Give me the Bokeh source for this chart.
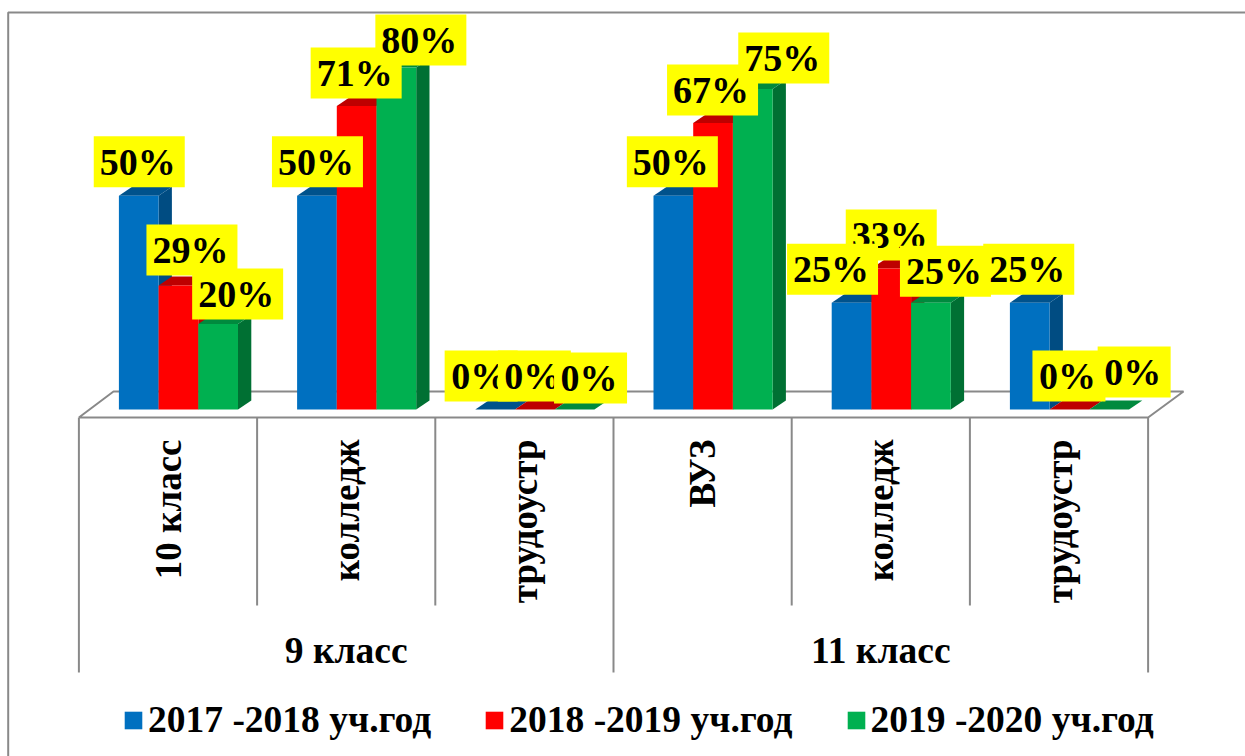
from bokeh.plotting import figure
from bokeh.models import Range1d, Legend, LegendItem
from bokeh.core.properties import value
from bokeh.embed import file_html
from bokeh.resources import INLINE

groups = ["9 класс", "11 класс"]
group_spans = [(0, 3), (3, 6)]
categories = ["10 класс", "колледж", "трудоустр", "ВУЗ", "колледж", "трудоустр"]
series_names = ["2017 -2018 уч.год", "2018 -2019 уч.год", "2019 -2020 уч.год"]
s2017 = [50, 50, 0, 50, 25, 25]
s2018 = [29, 71, 0, 67, 33, 0]
s2019 = [20, 80, 0, 75, 25, 0]
series = [s2017, s2018, s2019]

front = ["#0070C0", "#FF0000", "#00B050"]
top_c = ["#00528C", "#BE0000", "#008A3E"]
side_c = ["#004C82", "#BE0000", "#007033"]
GRAY = "#898989"
FONT = value("Liberation Serif")

# label-box offsets from each bar's top centre, in pixels (moved by hand in the original)
label_dx = [[0.5, 0.5, -14, -1, -19, -1], [13.5, -0.5, -0.5, -0.5, 0, -0.5], [19.5, 24.5, 16, 31, 14.5, 25]]
label_dy = [[-34, -34, -33.5, -34, -33.5, -33.5], [-35.5, -33, -33.5, -33, -33.5, -33.5], [-30, -27.5, -31.5, -31, -31.5, -37.5]]

W, H = 1245, 756
X_PX, Y_PX = 178.2, 4.275
X0, Y0 = 78.4, 409.0          # canvas position of data (0,0)
ux = lambda px: (px - X0) / X_PX
uy = lambda py: (Y0 - py) / Y_PX

p = figure(width=W, height=H, output_backend="svg", toolbar_location=None,
           x_range=Range1d(ux(0), ux(W)), y_range=Range1d(uy(H), uy(0)),
           min_border=0, outline_line_color=None, background_fill_color="white")
p.axis.visible = False
p.grid.visible = False

# chart-area border
p.line([ux(7.7), ux(7.7), ux(W)], [uy(H), uy(12), uy(12)], line_color=GRAY, line_width=2)

# floor
fx = [ux(78.4), ux(113), ux(1183), ux(1147.6), ux(78.4)]
fy = [uy(417), uy(391), uy(391), uy(417), uy(417)]
p.line(fx, fy, line_color=GRAY, line_width=2)

# category separators
for i in range(7):
    y_end = 672 if i in (0, 3, 6) else 605
    p.line([i, i], [uy(417), uy(y_end)], line_color=GRAY, line_width=2)

# bars with side and top faces
bar_w = 39.7 / X_PX
dx3, dy3 = 13.3 / X_PX, 9.0 / Y_PX
lead = 40.0 / X_PX
renderers = []
for s, vals in enumerate(series):
    left = [g + lead + s * bar_w for g in range(len(vals))]
    right = [l + bar_w for l in left]
    p.patches([[r, r + dx3, r + dx3, r] for r in right],
              [[0, dy3, v + dy3, v] for v in vals], fill_color=side_c[s], line_color=None)
    p.patches([[l, r, r + dx3, l + dx3] for l, r in zip(left, right)],
              [[v, v, v + dy3, v + dy3] for v in vals], fill_color=top_c[s], line_color=None)
    renderers.append(p.vbar(x=[l + bar_w / 2 for l in left], top=vals, bottom=0, width=bar_w,
                            fill_color=front[s], line_color=None))

# data labels, overlap order as in the original
for g in range(6):
    order = [1, 0, 2] if g == 4 else [0, 1, 2]
    for s in order:
        v = series[s][g]
        cx = g + lead + (s + 0.5) * bar_w + label_dx[s][g] / X_PX
        cy = v - label_dy[s][g] / Y_PX
        p.rect([cx], [cy], width=91 if v >= 10 else 73, height=51, width_units="screen",
               height_units="screen", fill_color="#FFFF00", line_color=None)
        p.text([cx - 1.5 / X_PX], [cy], text=[f"{v}%"], text_font=FONT, text_font_style="bold",
               text_font_size="38px", text_align="center", text_baseline="middle", text_color="black")

# category labels
for i, c in enumerate(categories):
    p.text([i + 0.5], [uy(439)], text=[c], text_font=FONT, text_font_style="bold",
           text_font_size="37px", angle=1.5707963, text_align="right", text_baseline="middle",
           text_color="black")
for name, (a, b) in zip(groups, group_spans):
    p.text([(a + b) / 2], [uy(650)], text=[name], text_font=FONT, text_font_style="bold",
           text_font_size="37.5px", text_align="center", text_baseline="middle", text_color="black")

legend = Legend(items=[LegendItem(label=n, renderers=[r]) for n, r in zip(series_names, renderers)],
                orientation="horizontal", location=(122, 15), background_fill_alpha=0,
                border_line_color=None, glyph_width=22, glyph_height=22, label_standoff=4,
                spacing=52, padding=0, margin=0, label_text_font="Liberation Serif",
                label_text_font_style="bold", label_text_font_size="37.5px", label_text_color="black")
p.add_layout(legend)

open("out.html", "w").write(file_html(p, INLINE))
